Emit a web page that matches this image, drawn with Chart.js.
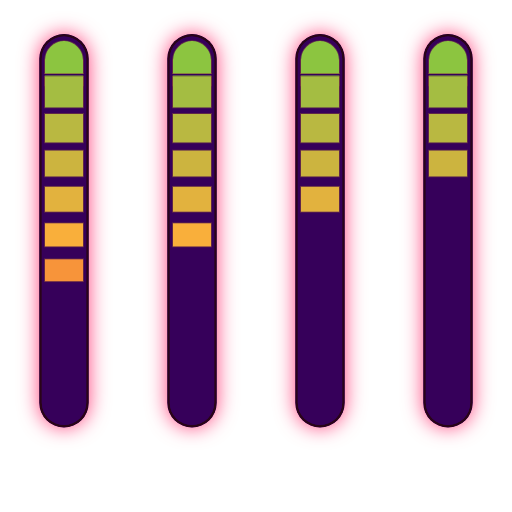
<!DOCTYPE html>
<html>
<head>
<meta charset="utf-8">
<script src="https://cdn.jsdelivr.net/npm/chart.js@4"></script>
<style>
  html, body { margin: 0; padding: 0; background: #ffffff; }
  #wrap { width: 512px; height: 512px; position: relative; }
</style>
</head>
<body>
<div id="wrap"><canvas id="gauge"></canvas></div>
<script>
// --- DATA ---
const columns = ['1', '2', '3', '4'];
const levels = [7, 6, 5, 4];          // lit segments per column
const maxLevel = 11;                   // full height of each tube
const segFrom = [0.17, 1.17, 2.21, 3.23, 4.24, 5.26, 6.27];
const segTo   = [1.09, 2.08, 3.06, 4.01, 5.00, 5.97, 6.94];
const segColors = ['#8cc540', '#a4bd42', '#b9b841', '#ccb43f', '#e2b23e', '#f9af3b', '#f7943a'];

const TUBE = '#36005a';
const SEG_EDGE = 'rgba(130, 70, 60, 0.55)';

// pink glow behind the tubes
const glowPlugin = {
    id: 'glow',
    beforeDatasetDraw(chart, args) {
        if (chart.data.datasets[args.index].glow) {
            const ctx = chart.ctx;
            ctx.save();
            ctx.shadowColor = 'rgba(255, 0, 80, 0.75)';
            ctx.shadowBlur = 20;
        }
    },
    afterDatasetDraw(chart, args) {
        if (chart.data.datasets[args.index].glow) chart.ctx.restore();
    }
};

const tube = columns.map(() => [0, maxLevel]);

const datasets = [
    {
        glow: true,
        data: tube,
        backgroundColor: TUBE,
        borderWidth: 0,
        borderRadius: 25,
        borderSkipped: false,
        barPercentage: 0.386,
        grouped: false,
        clip: false,
        order: 40
    },
    {
        data: tube,
        backgroundColor: TUBE,
        borderColor: '#2a0418',
        borderWidth: 2.5,
        borderRadius: 25,
        borderSkipped: false,
        barPercentage: 0.386,
        grouped: false,
        clip: false,
        order: 30
    }
];

segColors.forEach((col, i) => {
    const top = i === 0;
    datasets.push({
        // the top cap is drawn taller so its round end can be a full half circle,
        // its lower part is then covered by the gap below
        data: columns.map((_, c) => levels[c] > i ? [segFrom[i], top ? segFrom[i] + 1.3 : segTo[i]] : null),
        backgroundColor: col,
        borderColor: SEG_EDGE,
        borderWidth: 1,
        borderRadius: top ? { topLeft: 20, topRight: 20, bottomLeft: 0, bottomRight: 0 } : 0,
        borderSkipped: false,
        barPercentage: 0.3125,
        grouped: false,
        order: top ? 25 : 10 - i
    });
});

// gap under the top cap
datasets.push({
    data: columns.map((_, c) => levels[c] > 0 ? [segTo[0], segFrom[1]] : null),
    backgroundColor: TUBE,
    borderColor: SEG_EDGE,
    borderWidth: { top: 1, left: 0, right: 0, bottom: 0 },
    borderSkipped: false,
    barPercentage: 0.3125,
    grouped: false,
    order: 20
});

new Chart(document.getElementById('gauge').getContext('2d'), {
    type: 'bar',
    data: { labels: columns, datasets: datasets },
    options: {
        responsive: true, maintainAspectRatio: false,
        animation: false,
        layout: { padding: { top: 34, bottom: 84.5, left: 0, right: 0 } },
        datasets: { bar: { categoryPercentage: 1 } },
        scales: {
            x: { display: false },
            y: { display: false, reverse: true, min: 0, max: maxLevel }
        },
        plugins: {
            legend: { display: false },
            tooltip: { enabled: false }
        }
    },
    plugins: [glowPlugin]
});
</script>
</body>
</html>
